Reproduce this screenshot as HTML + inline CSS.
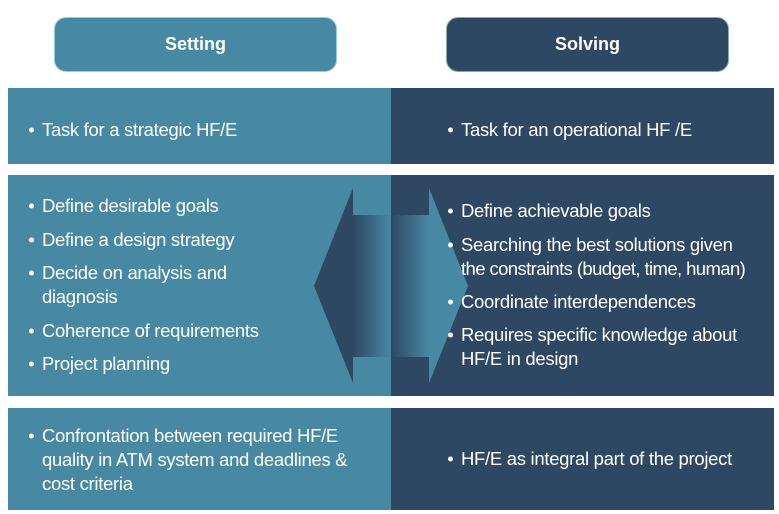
<!DOCTYPE html>
<html><head><meta charset="utf-8"><style>
body{margin:0;width:779px;height:514px;background:#fff;position:relative;overflow:hidden;font-family:"Liberation Sans",sans-serif;color:#fff}
.r{position:absolute}
.l{background:#4788A3}.d{background:#2E4763}
.t{position:absolute;font-size:18.5px;line-height:20px;white-space:nowrap;transform:translateY(-50%);letter-spacing:-0.3px}
.b{position:absolute;width:5px;height:5px;border-radius:50%;background:#fff;transform:translateY(-50%)}
.h{position:absolute;border-radius:12px;font-weight:bold;font-size:18px;display:flex;align-items:center;justify-content:center;border:1px solid #9cc}
</style></head><body>
<div class="h l" style="left:54px;top:17px;width:281px;height:53px">Setting</div>
<div class="h d" style="left:446px;top:17px;width:281px;height:53px;border-color:#8aa">Solving</div>

<div class="r l" style="left:8px;top:88px;width:383px;height:76px"></div>
<div class="r d" style="left:391px;top:88px;width:383px;height:76px"></div>
<div class="r l" style="left:8px;top:175px;width:383px;height:221px"></div>
<div class="r d" style="left:391px;top:175px;width:383px;height:221px"></div>
<div class="r l" style="left:8px;top:408px;width:383px;height:102px"></div>
<div class="r d" style="left:391px;top:408px;width:383px;height:102px"></div>

<svg class="r" style="left:0;top:0" width="779" height="514">
<defs>
<linearGradient id="g1" x1="0" x2="1"><stop offset="0" stop-color="#2E4763"/><stop offset="1" stop-color="#4788A3"/></linearGradient>
</defs>
<polygon points="314,286 353,188 353,383" fill="#2E4763"/>
<rect x="353" y="215" width="38" height="142" fill="url(#g1)"/>
<rect x="391" y="215" width="38" height="142" fill="url(#g1)"/>
<polygon points="468,286 429,188 429,383" fill="#4788A3"/>
</svg>

<div class="b" style="left:29px;top:130px"></div><div class="t" style="left:42px;top:130px">Task for a strategic HF/E</div>
<div class="b" style="left:448px;top:130px"></div><div class="t" style="left:461px;top:130px">Task for an operational HF /E</div>

<div class="b" style="left:29px;top:206px"></div><div class="t" style="left:42px;top:206px">Define desirable goals</div>
<div class="b" style="left:29px;top:240px"></div><div class="t" style="left:42px;top:240px">Define a design strategy</div>
<div class="b" style="left:29px;top:273px"></div><div class="t" style="left:42px;top:273px">Decide on analysis and</div>
<div class="t" style="left:42px;top:297px">diagnosis</div>
<div class="b" style="left:29px;top:331px"></div><div class="t" style="left:42px;top:331px">Coherence of requirements</div>
<div class="b" style="left:29px;top:364px"></div><div class="t" style="left:42px;top:364px">Project planning</div>

<div class="b" style="left:448px;top:211px"></div><div class="t" style="left:461px;top:211px">Define achievable goals</div>
<div class="b" style="left:448px;top:245px"></div><div class="t" style="left:461px;top:245px">Searching the best solutions given</div>
<div class="t" style="left:461px;top:269px;letter-spacing:-0.6px">the constraints (budget, time, human)</div>
<div class="b" style="left:448px;top:302px"></div><div class="t" style="left:461px;top:302px">Coordinate interdependences</div>
<div class="b" style="left:448px;top:335px"></div><div class="t" style="left:461px;top:335px">Requires specific knowledge about</div>
<div class="t" style="left:461px;top:359px">HF/E in design</div>

<div class="b" style="left:29px;top:436px"></div><div class="t" style="left:42px;top:436px">Confrontation between required HF/E</div>
<div class="t" style="left:42px;top:460px">quality in ATM system and deadlines &amp;</div>
<div class="t" style="left:42px;top:484px">cost criteria</div>
<div class="b" style="left:448px;top:459px"></div><div class="t" style="left:461px;top:459px">HF/E as integral part of the project</div>
</body></html>
